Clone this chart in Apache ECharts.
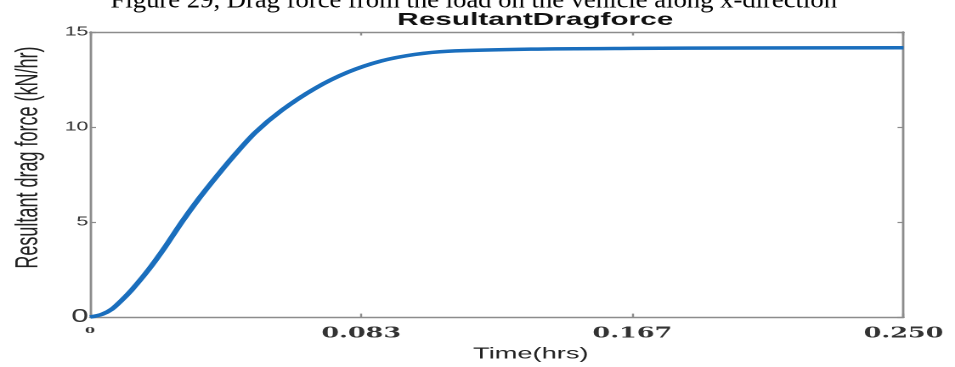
<!DOCTYPE html>
<html>
<head>
<meta charset="utf-8">
<script src="https://cdn.jsdelivr.net/npm/echarts@6/dist/echarts.min.js"></script>
<style>
html,body{margin:0;padding:0;background:#fff;overflow:hidden;width:955px;height:367px;}
#main{width:562px;height:367px;transform:scaleX(1.69929);transform-origin:0 0;}
</style>
</head>
<body>
<div id="main"></div>
<script>
// ---- data ----
var timeHrs = [0, 0.0037, 0.0067, 0.0098, 0.0129, 0.018, 0.0231, 0.0282, 0.0333, 0.0384, 0.0435, 0.0507, 0.0589, 0.0691, 0.0793, 0.0896, 0.0998, 0.110, 0.1355, 0.167, 0.20, 0.25];
var dragForce = [0, 0.15, 0.42, 0.9, 1.45, 2.5, 3.7, 5.0, 6.2, 7.3, 8.35, 9.7, 10.88, 12.03, 12.89, 13.48, 13.82, 13.99, 14.10, 14.14, 14.16, 14.17];
var xTickLabels = ['0', '0.083', '0.167', '0.250'];
var yTickValues = [0, 5, 10, 15];
var captionText = 'Figure 29, Drag force from the load on the vehicle along x-direction';
var titleText = 'ResultantDragforce';
var xName = 'Time(hrs)';
var yName = 'Resultant drag force (kN/hr)';

var seriesData = timeHrs.map(function (t, i) { return [t, dragForce[i]]; });

var S = 1.69929;
var axisGray = '#8c8c8c';
var chart = echarts.init(document.getElementById('main'), null, {devicePixelRatio: 2, renderer: 'canvas'});

function xBase() {
  return {
    type: 'value', min: 0, max: 0.25, interval: 1 / 12,
    splitLine: {show: false},
    axisLine: {show: true, onZero: false, lineStyle: {color: axisGray, width: 1.4}},
    axisTick: {show: true, inside: true, length: 3.5, lineStyle: {color: axisGray, width: 1.2}}
  };
}
function yBase() {
  return {
    type: 'value', min: 0, max: 15, interval: 5,
    splitLine: {show: false},
    axisLine: {show: true, onZero: false, lineStyle: {color: axisGray, width: 1.4}},
    axisTick: {show: true, inside: true, length: 3.5, lineStyle: {color: axisGray, width: 1.2}}
  };
}

chart.setOption({
  animation: false,
  backgroundColor: '#fff',
  title: {
    text: titleText,
    left: 310, top: 6, textAlign: 'center',
    textStyle: {fontFamily: 'Liberation Sans, Arial, sans-serif', fontWeight: 'bold', fontSize: 17.5, color: '#111'}
  },
  graphic: [{
    type: 'text',
    x: 278.8, y: 1,
    scaleX: 1.11 / S,
    silent: true,
    style: {
      text: captionText,
      fill: '#000',
      font: '24px "Liberation Serif", "Times New Roman", serif',
      align: 'center', verticalAlign: 'middle'
    }
  }],
  grid: {left: 51.8, right: 30.3, top: 32, bottom: 42, containLabel: false},
  xAxis: [
    Object.assign(xBase(), {
      position: 'bottom',
      name: xName, nameLocation: 'middle', nameGap: 24,
      nameTextStyle: {fontFamily: 'Liberation Sans, Arial, sans-serif', fontSize: 16, color: '#222', padding: [0, 0, 0, 40]},
      axisLabel: {
        show: true, margin: 9,
        fontFamily: '"DejaVu Serif", serif', fontWeight: 'bold', fontSize: 15, color: '#333',
        formatter: function (v) {
          var i = Math.round(v * 12);
          return i === 0 ? '{s|' + xTickLabels[0] + '}' : xTickLabels[i];
        },
        rich: {s: {fontFamily: '"DejaVu Serif", serif', fontWeight: 'bold', fontSize: 8.5, color: '#333'}}
      }
    }),
    Object.assign(xBase(), {position: 'top', axisLabel: {show: false}})
  ],
  yAxis: [
    Object.assign(yBase(), {
      position: 'left',
      name: yName, nameLocation: 'middle', nameGap: 27, nameRotate: 90,
      nameTextStyle: {fontFamily: 'Liberation Sans, Arial, sans-serif', fontSize: 18, color: '#222', padding: [0, 0, 0, 34]},
      axisLabel: {
        show: true, margin: 1,
        fontFamily: 'Liberation Sans, Arial, sans-serif', fontSize: 12.5, color: '#333',
        customValues: yTickValues,
        formatter: function (v) { return v === 0 ? '{b|0}' : String(v); },
        rich: {b: {fontFamily: 'Liberation Sans, Arial, sans-serif', fontSize: 18, color: '#333'}}
      }
    }),
    Object.assign(yBase(), {position: 'right', axisLabel: {show: false}})
  ],
  series: [{
    type: 'line',
    data: seriesData,
    smooth: 0.3,
    showSymbol: false,
    symbol: 'none',
    lineStyle: {color: '#1a6ebd', width: 3.5},
    xAxisIndex: 0, yAxisIndex: 0
  }]
});
</script>
</body>
</html>
